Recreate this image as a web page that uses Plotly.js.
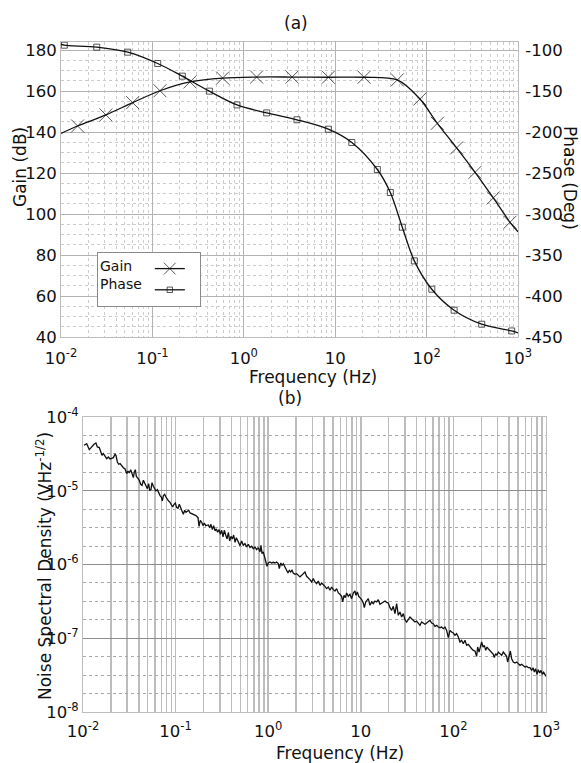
<!DOCTYPE html>
<html><head><meta charset="utf-8">
<script src="https://cdn.plot.ly/plotly-3.0.1.min.js"></script>
<style>html,body{margin:0;padding:0;background:#fff}#chart{width:581px;height:763px}</style>
</head><body><div id="chart"></div>
<script>
// ---- (a) Bode plot: gain and phase vs frequency (Hz) ----
const gainFreq = [0.01, 0.0152, 0.031, 0.0608, 0.121, 0.258, 0.587, 1.38, 3.38, 8.41, 20.7, 47.8, 84.6, 131, 213, 339, 537, 817, 1000];
const gainDb   = [139.4, 143.0, 148.4, 154.4, 160.2, 164.5, 166.4, 166.9, 166.9, 166.8, 166.8, 165.5, 156.2, 144.3, 132.3, 120.4, 107.9, 96.0, 91.4];
const phaseFreq = [0.01, 0.01087, 0.0246, 0.0537, 0.1143, 0.2125, 0.420, 0.843, 1.78, 3.82, 8.41, 15.2, 28.9, 40.1, 54.2, 73.4, 114, 200, 401, 853, 1000];
const phaseDeg  = [-92.7, -93.9, -96.3, -102.4, -116.2, -131.7, -150.0, -166.8, -176.5, -184.9, -196.4, -212.6, -245.6, -273.7, -316.0, -357.1, -391.7, -417.3, -434.4, -442.6, -445.0];

// ---- (b) Noise spectral density: log10(frequency / Hz) and log10(density / V Hz^-1/2) ----
const noiseLogFreq = [
-1.989,-1.960,-1.932,-1.906,-1.881,-1.860,-1.845,-1.824,-1.809,-1.795,
-1.780,-1.762,-1.744,-1.726,-1.708,-1.690,-1.672,-1.654,-1.643,-1.629,
-1.615,-1.600,-1.582,-1.564,-1.546,-1.528,-1.514,-1.500,-1.485,-1.471,
-1.456,-1.446,-1.435,-1.424,-1.410,-1.392,-1.377,-1.363,-1.348,-1.334,
-1.320,-1.305,-1.291,-1.280,-1.266,-1.255,-1.240,-1.226,-1.212,-1.197,
-1.183,-1.168,-1.154,-1.143,-1.132,-1.118,-1.104,-1.089,-1.075,-1.060,
-1.046,-1.032,-1.017,-1.003,-0.988,-0.974,-0.960,-0.945,-0.931,-0.916,
-0.902,-0.888,-0.873,-0.859,-0.844,-0.823,-0.801,-0.780,-0.758,-0.747,
-0.733,-0.718,-0.704,-0.690,-0.675,-0.661,-0.646,-0.632,-0.618,-0.603,
-0.589,-0.574,-0.560,-0.546,-0.531,-0.517,-0.502,-0.488,-0.474,-0.459,
-0.444,-0.430,-0.416,-0.402,-0.387,-0.373,-0.358,-0.344,-0.330,-0.315,
-0.304,
-0.287,-0.269,-0.251,-0.233,-0.215,-0.197,-0.179,-0.161,-0.143,-0.125,
-0.107,-0.089,-0.078,-0.067,-0.053,-0.038,-0.024,-0.013,0.001,0.019,
0.037,0.055,0.073,0.091,0.109,0.120,0.135,0.149,0.163,0.181,
0.199,0.214,0.228,0.243,0.257,0.271,0.289,0.307,0.325,0.343,
0.361,0.379,0.397,0.415,0.433,0.451,0.469,0.487,0.505,0.523,
0.541,0.559,0.577,0.595,0.613,0.631,0.649,0.667,0.685,0.703,
0.721,0.739,0.757,0.775,0.793,0.804,0.819,0.833,0.847,0.865,
0.883,0.901,0.919,0.937,0.948,0.963,0.977,0.991,1.009,1.027,
1.038,1.053,1.067,1.081,1.099,1.117,1.135,1.153,1.171,1.189,
1.207,1.225,1.243,1.261,1.279,1.297,1.315,
1.333,1.351,1.369,1.387,1.405,1.423,1.441,1.459,1.477,1.495,
1.513,1.531,1.549,1.567,1.585,1.603,1.621,1.639,1.657,1.675,
1.693,1.711,1.729,1.747,1.765,1.783,1.801,1.819,1.837,1.855,
1.873,1.891,1.909,1.927,1.945,1.963,1.981,1.999,2.017,2.035,
2.053,2.071,2.089,2.107,2.125,2.143,2.161,2.179,2.197,2.215,
2.233,2.251,2.262,2.277,2.291,2.305,2.320,2.334,2.349,2.363,
2.377,2.395,2.413,2.431,2.442,2.457,2.471,2.485,2.503,2.521,
2.539,2.557,2.575,2.586,2.600,2.615,2.629,2.647,2.665,2.683,
2.701,2.719,2.737,2.755,2.773,2.791,2.809,2.827,2.845,2.860,
2.874,2.888,2.903,2.917,2.932,2.946,2.960,2.975,2.989,3.000];
const noiseLogDensity = [
-4.384,-4.361,-4.443,-4.397,-4.370,-4.352,-4.406,-4.415,-4.461,-4.519,
-4.497,-4.542,-4.565,-4.542,-4.569,-4.560,-4.551,-4.506,-4.524,-4.610,
-4.641,-4.632,-4.668,-4.687,-4.705,-4.768,-4.732,-4.759,-4.714,-4.777,
-4.822,-4.745,-4.714,-4.804,-4.822,-4.858,-4.913,-4.927,-4.858,-4.904,
-4.940,-4.972,-4.904,-4.994,-4.985,-4.890,-4.940,-4.976,-5.003,-4.985,
-5.030,-5.066,-5.085,-5.139,-5.066,-5.048,-5.085,-5.121,-5.139,-5.157,
-5.202,-5.220,-5.184,-5.166,-5.229,-5.238,-5.184,-5.247,-5.274,-5.319,
-5.265,-5.292,-5.283,-5.265,-5.301,-5.310,-5.328,-5.337,-5.365,-5.482,
-5.401,-5.428,-5.473,-5.437,-5.473,-5.473,-5.464,-5.500,-5.455,-5.527,
-5.473,-5.545,-5.518,-5.563,-5.527,-5.591,-5.536,-5.627,-5.536,-5.600,
-5.654,-5.563,-5.681,-5.618,-5.654,-5.600,-5.699,-5.636,-5.672,-5.717,
-5.744,
-5.681,-5.740,-5.717,-5.762,-5.726,-5.771,-5.753,-5.785,-5.762,-5.799,
-5.771,-5.830,-5.740,-5.853,-5.830,-5.898,-5.943,-6.024,-5.979,-5.966,
-5.979,-5.970,-5.979,-5.966,-5.988,-6.056,-5.979,-6.011,-5.988,-6.034,
-6.070,-6.115,-6.079,-6.101,-6.079,-6.115,-6.133,-6.124,-6.147,-6.169,
-6.147,-6.124,-6.101,-6.160,-6.178,-6.205,-6.237,-6.192,-6.237,-6.260,
-6.224,-6.283,-6.251,-6.269,-6.296,-6.327,-6.305,-6.350,-6.305,-6.341,
-6.359,-6.327,-6.386,-6.404,-6.431,-6.508,-6.418,-6.449,-6.386,-6.431,
-6.404,-6.463,-6.386,-6.359,-6.418,-6.373,-6.431,-6.449,-6.477,-6.522,
-6.585,-6.508,-6.477,-6.463,-6.553,-6.508,-6.531,-6.495,-6.508,-6.477,
-6.540,-6.522,-6.508,-6.495,-6.513,-6.522,-6.585,
-6.621,-6.567,-6.666,-6.531,-6.689,-6.644,-6.712,-6.666,-6.748,-6.780,
-6.735,-6.712,-6.735,-6.757,-6.780,-6.766,-6.802,-6.825,-6.780,-6.802,
-6.811,-6.793,-6.780,-6.757,-6.793,-6.802,-6.838,-6.825,-6.848,-6.857,
-6.848,-6.870,-6.848,-6.893,-6.992,-6.893,-6.915,-6.929,-6.960,-6.938,
-6.983,-7.051,-7.028,-7.074,-7.028,-7.096,-7.083,-7.119,-7.142,-7.164,
-7.173,-7.245,-7.119,-7.187,-7.096,-7.051,-7.119,-7.096,-7.164,-7.119,
-7.142,-7.164,-7.187,-7.218,-7.263,-7.209,-7.232,-7.187,-7.209,-7.232,
-7.187,-7.209,-7.245,-7.322,-7.254,-7.173,-7.277,-7.322,-7.336,-7.322,
-7.344,-7.367,-7.354,-7.367,-7.390,-7.381,-7.399,-7.399,-7.435,-7.399,
-7.458,-7.413,-7.489,-7.426,-7.471,-7.435,-7.489,-7.462,-7.498,-7.516];

// ---- tick labels ----
const freqTickVals = [0.01, 0.1, 1, 10, 100, 1000];
const freqTickText = ['10<sup>-2</sup>', '10<sup>-1</sup>', '10<sup>0</sup>', '10', '10<sup>2</sup>', '10<sup>3</sup>'];
const gainTickVals = [40, 60, 80, 100, 120, 140, 160, 180];
const phaseTickVals = [-450, -400, -350, -300, -250, -200, -150, -100];
const phaseTickText = ['-450', '-400', '-350', '-300', '-250', '-200', '-150', '-100'];
const noiseTickVals = [1e-8, 1e-7, 1e-6, 1e-5, 1e-4];
const noiseTickText = ['10<sup>-8</sup>', '10<sup>-7</sup>', '10<sup>-6</sup>', '10<sup>-5</sup>', '10<sup>-4</sup>'];

// grid helper positions (axis decoration only)
function logMinor(d0, d1) { const v = []; for (let d = d0; d < d1; d++) for (let m = 2; m <= 9; m++) v.push(m * Math.pow(10, d)); return v; }
function quarterDecades(d0, d1) { const v = []; for (let d = d0; d < d1; d++) for (let q = 1; q <= 3; q++) v.push(Math.pow(10, d + q / 4)); return v; }

const W = 581, H = 763;
const px = v => v / W, py = v => 1 - v / H;
const FONT = 'DejaVu Sans';
const INK = '#111111';

const markerSizes = (n, s) => Array.from({length: n}, (_, i) => (i === 0 || i === n - 1) ? 0 : s);

const traces = [
  { x: gainFreq, y: gainDb, xaxis: 'x', yaxis: 'y', mode: 'lines+markers', name: ' ',
    line: {color: INK, width: 1.3, shape: 'spline', smoothing: 0.9},
    marker: {symbol: 'x-thin-open', size: markerSizes(gainFreq.length, 13), color: INK, line: {color: INK, width: 1}},
    showlegend: true },
  { x: phaseFreq, y: phaseDeg, xaxis: 'x', yaxis: 'y2', mode: 'lines+markers', name: ' ',
    line: {color: INK, width: 1.3, shape: 'spline', smoothing: 0.9},
    marker: {symbol: 'square-open', size: markerSizes(phaseFreq.length, 6), color: INK, line: {color: INK, width: 1}},
    showlegend: true },
  { x: noiseLogFreq.map(e => Math.pow(10, e)), y: noiseLogDensity.map(e => Math.pow(10, e)),
    xaxis: 'x2', yaxis: 'y3', mode: 'lines', line: {color: INK, width: 1.3}, showlegend: false }
];

const frame = {showline: true, mirror: true, linecolor: '#bdbdbd', linewidth: 1, ticks: '', zeroline: false};

const ann = (text, x, y, extra) => Object.assign({
  text: text, x: px(x), y: py(y), xref: 'paper', yref: 'paper',
  xanchor: 'center', yanchor: 'middle', showarrow: false, font: {size: 17}
}, extra || {});

const layout = {
  width: W, height: H,
  margin: {l: 0, r: 0, t: 0, b: 0},
  paper_bgcolor: '#ffffff', plot_bgcolor: '#ffffff',
  font: {family: FONT, color: INK, size: 16.5},
  showlegend: true,
  xaxis: Object.assign({}, frame, {
    type: 'log', range: [-2, 3], domain: [px(61), px(518)], anchor: 'y',
    tickmode: 'array', tickvals: freqTickVals, ticktext: freqTickText, ticklabelstandoff: 6,
    showgrid: true, gridcolor: '#b3b3b3', gridwidth: 1,
    minor: {tickmode: 'array', tickvals: logMinor(-2, 3), showgrid: true, gridcolor: '#cccccc', griddash: 'dot', gridwidth: 1}
  }),
  yaxis: Object.assign({}, frame, {
    range: [40, 184], domain: [py(337), py(42)], anchor: 'x',
    tickmode: 'array', tickvals: gainTickVals,
    showgrid: true, gridcolor: '#b3b3b3', gridwidth: 1,
    minor: {dtick: 5, tick0: 40, showgrid: true, gridcolor: '#cccccc', griddash: 'dot', gridwidth: 1}
  }),
  yaxis2: Object.assign({}, frame, {
    overlaying: 'y', side: 'right', anchor: 'x',
    range: [-450, -90], tickmode: 'array', tickvals: phaseTickVals, ticktext: phaseTickText,
    showgrid: false, ticklabelstandoff: 3
  }),
  xaxis2: Object.assign({}, frame, {
    type: 'log', range: [-2, 3], domain: [px(83), px(546)], anchor: 'y3',
    tickmode: 'array', tickvals: freqTickVals, ticktext: freqTickText, ticklabelstandoff: 4,
    showgrid: true, gridcolor: '#bcbcbc', gridwidth: 1.5,
    minor: {tickmode: 'array', tickvals: logMinor(-2, 3), showgrid: true, gridcolor: '#bcbcbc', gridwidth: 1.5}
  }),
  yaxis3: Object.assign({}, frame, {
    type: 'log', range: [-8, -4], domain: [py(712), py(417)], anchor: 'x2',
    tickmode: 'array', tickvals: noiseTickVals, ticktext: noiseTickText,
    showgrid: true, gridcolor: '#8e8e8e', gridwidth: 1.2,
    minor: {tickmode: 'array', tickvals: quarterDecades(-8, -4), showgrid: true, gridcolor: '#a8a8a8', griddash: 'dot', gridwidth: 1}
  }),
  legend: {
    x: px(97), y: py(252), xanchor: 'left', yanchor: 'top',
    bgcolor: '#ffffff', bordercolor: '#8a8a8a', borderwidth: 1,
    font: {family: FONT, size: 14, color: INK},
    title: {text: 'Gain<br>Phase', side: 'left', font: {family: FONT, size: 14, color: INK}},
    tracegroupgap: 0, itemwidth: 30
  },
  annotations: [
    ann('(a)', 296, 23),
    ann('Frequency (Hz)', 313, 377),
    ann('Gain (dB)', 20, 167, {textangle: -90}),
    ann('Phase (Deg)', 570, 178, {textangle: 90}),
    ann('(b)', 290, 398),
    ann('Frequency (Hz)', 340, 753),
    ann('Noise Spectral Density (VHz<sup>-1/2</sup>)', 44, 566, {textangle: -90})
  ]
};

Plotly.newPlot('chart', traces, layout, {staticPlot: true, displayModeBar: false});
</script>
</body></html>
